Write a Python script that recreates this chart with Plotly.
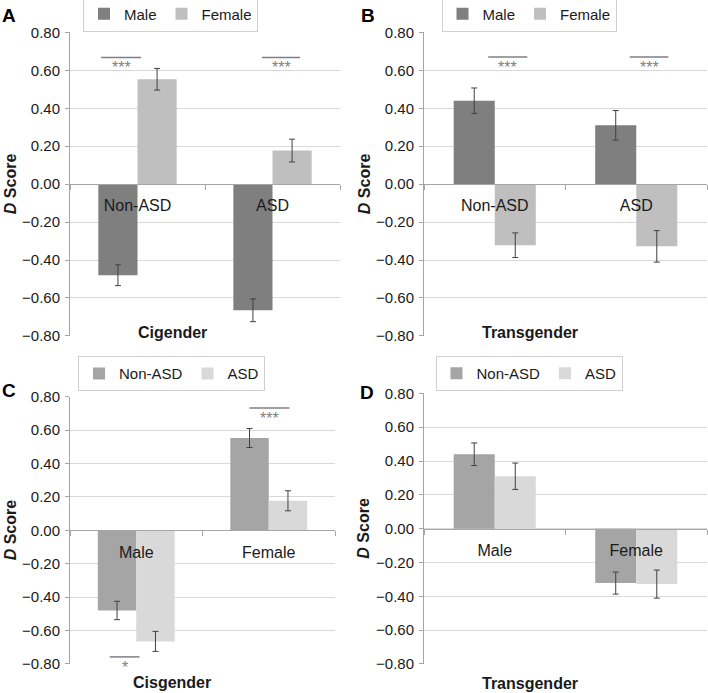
import plotly.graph_objects as go

# ---------------- data ----------------
asd_status = ["Non-ASD", "ASD"]
gender = ["Male", "Female"]

cis_male = [-0.48, -0.665]
cis_female = [0.553, 0.177]
cis_male_err = [0.055, 0.060]
cis_female_err = [0.057, 0.060]

trans_male = [0.44, 0.31]
trans_female = [-0.322, -0.328]
trans_male_err = [0.067, 0.078]
trans_female_err = [0.065, 0.083]

y_ticks = [-0.8, -0.6, -0.4, -0.2, 0.0, 0.2, 0.4, 0.6, 0.8]

# significance brackets: (axis suffix, x0, x1, y, label)
sig_marks = [
    ("", -0.27, 0.026, 0.668, "***"),
    ("", 0.922, 1.204, 0.668, "***"),
    ("2", -0.046, 0.23, 0.67, "***"),
    ("2", 0.954, 1.227, 0.67, "***"),
    ("3", 0.854, 1.156, 0.733, "***"),
    ("3", -0.20, 0.025, -0.758, "*"),
]

# ---------------- style ----------------
W, H = 708, 693
FONT = "Liberation Sans, Arial, sans-serif"
C_MALE, C_FEMALE = "#7f7f7f", "#bfbfbf"
C_NON, C_ASD = "#a5a5a5", "#d9d9d9"
ERR_C = "#404040"


def px_x(p):
    return p / W


def px_y(p):
    return 1 - p / H


panels = {
    "": dict(x=[px_x(70), px_x(340)], y=[px_y(336), px_y(32.3)]),
    "2": dict(x=[px_x(424), px_x(707)], y=[px_y(336), px_y(32.3)]),
    "3": dict(x=[px_x(70), px_x(335)], y=[px_y(664), px_y(396.7)]),
    "4": dict(x=[px_x(424), px_x(707)], y=[px_y(664), px_y(393.3)]),
}

fig = go.Figure()


def add_bar(name, cats, vals, errs, color, suffix, legend):
    fig.add_trace(go.Bar(
        name=name, x=cats, y=vals,
        marker=dict(color=color, line=dict(width=0)),
        error_y=dict(type="data", array=errs, visible=True,
                     color=ERR_C, thickness=1, width=3),
        xaxis="x" + suffix, yaxis="y" + suffix,
        legend=legend, showlegend=True,
    ))


# A: cisgender by ASD status
add_bar("Male", asd_status, cis_male, cis_male_err, C_MALE, "", "legend")
add_bar("Female", asd_status, cis_female, cis_female_err, C_FEMALE, "", "legend")
# B: transgender by ASD status
add_bar("Male", asd_status, trans_male, trans_male_err, C_MALE, "2", "legend2")
add_bar("Female", asd_status, trans_female, trans_female_err, C_FEMALE, "2", "legend2")
# C: cisgender by gender
add_bar("Non-ASD", gender, [cis_male[0], cis_female[0]],
        [cis_male_err[0], cis_female_err[0]], C_NON, "3", "legend3")
add_bar("ASD", gender, [cis_male[1], cis_female[1]],
        [cis_male_err[1], cis_female_err[1]], C_ASD, "3", "legend3")
# D: transgender by gender
add_bar("Non-ASD", gender, [trans_male[0], trans_female[0]],
        [trans_male_err[0], trans_female_err[0]], C_NON, "4", "legend4")
add_bar("ASD", gender, [trans_male[1], trans_female[1]],
        [trans_male_err[1], trans_female_err[1]], C_ASD, "4", "legend4")

layout = dict(
    width=W, height=H,
    margin=dict(l=0, r=0, t=0, b=0, autoexpand=False),
    paper_bgcolor="white", plot_bgcolor="white",
    barmode="group", bargap=0.42, bargroupgap=0,
    font=dict(family=FONT, color="#1a1a1a"),
)

legend_pos = {"legend": (170.5, 14), "legend2": (529, 14),
              "legend3": (171.5, 373.7), "legend4": (529, 373.5)}
for key, (lx, ly) in legend_pos.items():
    layout[key] = dict(
        orientation="h", x=px_x(lx), y=px_y(ly), xanchor="center", yanchor="middle",
        bgcolor="white", bordercolor="#d0d0d0", borderwidth=1,
        font=dict(family=FONT, size=15, color="#1a1a1a"),
        itemwidth=30, tracegroupgap=0,
    )

for s, d in panels.items():
    mid = (d["y"][0] + d["y"][1]) / 2
    layout["xaxis" + s] = dict(
        domain=d["x"], anchor="free", position=mid,
        showline=True, linecolor="#a6a6a6", linewidth=1,
        ticks="outside", tickson="boundaries", ticklen=5, tickcolor="#a6a6a6",
        showgrid=False, zeroline=False,
        tickfont=dict(family=FONT, size=16, color="#1a1a1a"),
        ticklabelstandoff=7,
        fixedrange=True,
    )
    layout["yaxis" + s] = dict(
        domain=d["y"], anchor="x" + s, range=[-0.8005, 0.8005],
        tickvals=y_ticks, tickformat=".2f",
        showline=True, linecolor="#a6a6a6", linewidth=1,
        ticks="outside", ticklen=4, tickcolor="#a6a6a6",
        showgrid=True, gridcolor="#d9d9d9", gridwidth=1, zeroline=False,
        tickfont=dict(family=FONT, size=15, color="#1a1a1a"),
        ticklabelstandoff=2,
        fixedrange=True,
    )

fig.update_layout(**layout)

shapes = []
annotations = []
for s, x0, x1, yv, lab in sig_marks:
    shapes.append(dict(type="line", xref="x" + s, yref="y" + s,
                       x0=x0, x1=x1, y0=yv, y1=yv,
                       line=dict(color="#808080", width=1.5)))
    annotations.append(dict(xref="x" + s, yref="y" + s, x=(x0 + x1) / 2, y=yv,
                            text=lab, showarrow=False, yanchor="top", yshift=0,
                            font=dict(family=FONT, size=16, color="#808080")))

# panel letters
for lab, (lx, ly) in {"A": (9, 16), "B": (368, 16), "C": (9, 390), "D": (367, 392)}.items():
    annotations.append(dict(xref="paper", yref="paper", x=px_x(lx), y=px_y(ly),
                            text="<b>%s</b>" % lab, showarrow=False,
                            xanchor="center", yanchor="middle",
                            font=dict(family=FONT, size=19, color="black")))

# y-axis titles
for s, (lx, d) in {"": (10, panels[""]), "2": (364, panels["2"]),
                   "3": (10, panels["3"]), "4": (364, panels["4"])}.items():
    mid = (d["y"][0] + d["y"][1]) / 2
    annotations.append(dict(xref="paper", yref="paper", x=px_x(lx), y=mid,
                            text="<b><i>D</i> Score</b>", showarrow=False, textangle=-90,
                            xanchor="center", yanchor="middle",
                            font=dict(family=FONT, size=16, color="#1a1a1a")))

# group titles
for lab, (lx, ly) in {"Cigender": (172, 332), "Transgender": (530, 332),
                      "Cisgender": (172, 682), "Transgender ": (530, 683)}.items():
    annotations.append(dict(xref="paper", yref="paper", x=px_x(lx), y=px_y(ly),
                            text="<b>%s</b>" % lab.strip(), showarrow=False,
                            xanchor="center", yanchor="middle",
                            font=dict(family=FONT, size=16, color="#1a1a1a")))

fig.update_layout(shapes=shapes, annotations=annotations)
fig.write_html(
    "out.html",
    config={"displayModeBar": False, "staticPlot": True},
    post_script="document.body.style.margin='0';document.body.style.padding='0';"
                "document.body.style.overflow='hidden';",
)
